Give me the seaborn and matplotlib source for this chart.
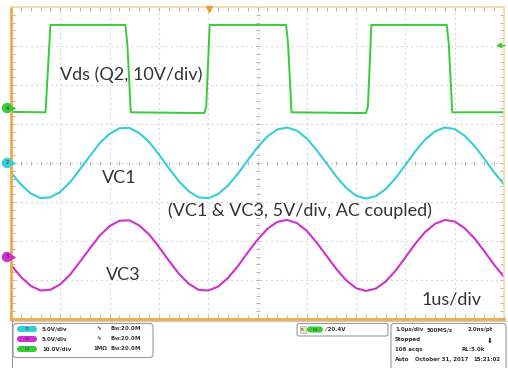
import numpy as np
import matplotlib
matplotlib.use("Agg")
import matplotlib.pyplot as plt
import seaborn as sns
from matplotlib.patches import FancyBboxPatch, Circle, Rectangle
from matplotlib.ticker import MultipleLocator

# screen readings, in divisions (x: 1 us/div, y: divisions from centre line)
time_us = [0.0, 0.2, 0.4, 0.6, 0.8, 1.0, 1.2, 1.4, 1.6, 1.8,
           2.0, 2.2, 2.4, 2.6, 2.8, 3.0, 3.2, 3.4, 3.6, 3.8,
           4.0, 4.2, 4.4, 4.6, 4.8, 5.0, 5.2, 5.4, 5.6, 5.8,
           6.0, 6.2, 6.4, 6.6, 6.8, 7.0, 7.2, 7.4, 7.6, 7.8,
           8.0, 8.2, 8.4, 8.6, 8.8, 9.0, 9.2, 9.4, 9.6, 9.8, 10.0]
vc1_div = [-0.24, -0.55, -0.78, -0.90, -0.88, -0.74, -0.49, -0.16, 0.18, 0.51,
           0.75, 0.89, 0.90, 0.77, 0.54, 0.22, -0.13, -0.46, -0.72, -0.88,
           -0.90, -0.80, -0.58, -0.28, 0.07, 0.40, 0.68, 0.86, 0.91, 0.83,
           0.63, 0.33, -0.01, -0.35, -0.64, -0.84, -0.91, -0.85, -0.67, -0.39,
           -0.05, 0.30, 0.60, 0.81, 0.91, 0.87, 0.70, 0.44, 0.11, -0.24, -0.55]
vc3_div = [-2.61, -2.92, -3.15, -3.27, -3.25, -3.11, -2.86, -2.53, -2.19, -1.86,
           -1.62, -1.48, -1.47, -1.60, -1.83, -2.15, -2.50, -2.83, -3.09, -3.25,
           -3.27, -3.17, -2.95, -2.65, -2.30, -1.97, -1.69, -1.51, -1.46, -1.54,
           -1.74, -2.04, -2.38, -2.72, -3.01, -3.21, -3.28, -3.22, -3.04, -2.76,
           -2.42, -2.07, -1.77, -1.56, -1.46, -1.50, -1.67, -1.93, -2.26, -2.61, -2.92]
vds_time_us = [0.0, 0.70, 0.80, 2.32, 2.36, 2.43, 3.92, 3.96, 4.03, 5.58,
               5.62, 5.69, 7.20, 7.24, 7.31, 8.84, 8.88, 8.95, 10.0]
vds_div = [1.31, 1.30, 3.54, 3.54, 3.05, 1.30, 1.28, 1.45, 3.54, 3.54,
           3.05, 1.30, 1.28, 1.45, 3.54, 3.54, 3.05, 1.30, 1.30]

ch_names = ["C2", "C3", "C4"]
ch_scales = ["5.0V/div", "5.0V/div", "10.0V/div"]
ch_colors = ["#33cfd6", "#d22fd0", "#38cc38"]
acq_rows = [("1.0µs/div", "500MS/s", "2.0ns/pt"),
            ("Stopped", "", ""),
            ("106 acqs", "", "RL:5.0k"),
            ("Auto", "October 31, 2017", "15:21:02")]

GREEN, CYAN, MAGENTA = "#38cc38", "#33cfd6", "#d22fd0"
TXT = "#333333"

sns.set_style("white")
plt.rcParams['font.family'] = ['Lato', 'DejaVu Sans']

fig = plt.figure(figsize=(5.08, 3.68), dpi=100)
ax = fig.add_axes([11 / 508, 49 / 368, 493 / 508, 312 / 368])

sns.lineplot(x=vds_time_us, y=vds_div, color=GREEN, lw=1.4, ax=ax, sort=False)
sns.lineplot(x=time_us, y=vc1_div, color=CYAN, lw=1.5, ax=ax)
sns.lineplot(x=time_us, y=vc3_div, color=MAGENTA, lw=1.5, ax=ax)

ax.set_xlim(0, 10)
ax.set_ylim(-4, 4)
ax.set_xticks(range(0, 11))
ax.set_yticks(range(-4, 5))
ax.xaxis.set_minor_locator(MultipleLocator(0.2))
ax.yaxis.set_minor_locator(MultipleLocator(0.2))
ax.tick_params(which='both', direction='in', top=True, right=True, bottom=True, left=True,
               labelbottom=False, labelleft=False, color='#a8a8a8', length=3, width=0.6)
ax.grid(True, which='major', color='#b8b8b8', linestyle=(0, (1, 3.5)), lw=0.8)
ax.set(xlabel=None, ylabel=None)
for side in ['left', 'bottom']:
    ax.spines[side].set_color('#f0a848')
    ax.spines[side].set_linewidth(2)
for side in ['top', 'right']:
    ax.spines[side].set_color('#f2d9ab')
    ax.spines[side].set_linewidth(1.2)

# centre crosshair ticks
mt = np.arange(0, 10.01, 0.2)
ax.plot(mt, np.zeros_like(mt), ls='none', marker='|', ms=3, mew=0.6, color='#a8a8a8')
mv = np.arange(-4, 4.01, 0.2)
ax.plot(np.full_like(mv, 5), mv, ls='none', marker='_', ms=3, mew=0.6, color='#a8a8a8')

ax.text(0.99, 2.26, "Vds (Q2, 10V/div)", fontsize=13, color=TXT, va='center')
ax.text(1.85, -0.38, "VC1", fontsize=13, color=TXT, va='center')
ax.text(3.18, -1.23, "(VC1 & VC3, 5V/div, AC coupled)", fontsize=13, color=TXT, va='center')
ax.text(1.93, -2.87, "VC3", fontsize=13, color=TXT, va='center')
ax.text(8.32, -3.49, "1us/div", fontsize=13, color=TXT, va='center')

# overlay in pixel units for scope decorations
ov = fig.add_axes([0, 0, 1, 1], zorder=5)
ov.set_xlim(0, 508)
ov.set_ylim(368, 0)
ov.axis('off')
ov.patch.set_alpha(0)

for y, c, n in [(108, GREEN, "4"), (163, CYAN, "2"), (257, MAGENTA, "3")]:
    ov.add_patch(Circle((7, y), 4.5, color=c, clip_on=False))
    ov.plot(12.5, y, marker='>', ms=2.5, color=c)
    ov.text(7, y, n, fontsize=3.5, ha='center', va='center', color='#222222', family='DejaVu Sans')
ov.plot(209, 9, marker='v', ms=4, color='#f0a030')
ov.plot(499, 45, marker='<', ms=3, color=GREEN)
ov.plot([499, 505], [45, 45], color=GREEN, lw=0.8)

# status panel
ov.plot([11, 508], [321, 321], color='#c8c8c8', lw=0.8)
ov.plot([12, 12], [321, 368], color='#9a9a9a', lw=0.8)
ov.add_patch(FancyBboxPatch((13, 323.5), 140, 34, boxstyle="round,pad=0,rounding_size=3",
                            fc='white', ec='#9a9a9a', lw=0.8))
for i, (n, s, c) in enumerate(zip(ch_names, ch_scales, ch_colors)):
    y = 329 + 10 * i
    ov.add_patch(FancyBboxPatch((17, y - 3), 20, 6, boxstyle="round,pad=0,rounding_size=3",
                                fc=c, ec='none'))
    ov.text(27, y, n, fontsize=2.8, ha='center', va='center', color='#333333', family='DejaVu Sans')
    ov.text(42, y, s, fontsize=4, ha='left', va='center', color=TXT, weight='bold', family='DejaVu Sans')
    ov.text(96 if i < 2 else 93, y, "∿" if i < 2 else "1MΩ", fontsize=4, ha='left', va='center',
            color=TXT, weight='bold', family='DejaVu Sans')
    ov.text(110, y, r"$\mathregular{B_W}$:20.0M", fontsize=4, ha='left', va='center',
            color=TXT, weight='bold', family='DejaVu Sans')

ov.add_patch(FancyBboxPatch((297, 323.5), 91, 12.5, boxstyle="round,pad=0,rounding_size=2",
                            fc='white', ec='#9a9a9a', lw=0.8))
ov.add_patch(Rectangle((299.5, 326), 6, 7, fc='#eee2c8', ec='#b0a080', lw=0.4))
ov.text(302.5, 329.7, "R", fontsize=3, ha='center', va='center', color=TXT, family='DejaVu Sans')
ov.add_patch(FancyBboxPatch((307, 326.5), 16, 6, boxstyle="round,pad=0,rounding_size=3",
                            fc=GREEN, ec='none'))
ov.text(315, 329.7, "C4", fontsize=2.8, ha='center', va='center', color='#333333', family='DejaVu Sans')
ov.text(325, 329.7, "⁄ 20.4V", fontsize=4, ha='left', va='center', color=TXT, weight='bold',
        family='DejaVu Sans')

ov.add_patch(FancyBboxPatch((391, 323.5), 115, 46, boxstyle="round,pad=0,rounding_size=3",
                            fc='white', ec='#9a9a9a', lw=0.8, clip_on=False))
for i, (a, b, c) in enumerate(acq_rows):
    y = 330 + 9.7 * i
    ov.text(395, y, a, fontsize=4, ha='left', va='center', color=TXT, weight='bold', family='DejaVu Sans')
    if b:
        ov.text(427 if i == 0 else 415, y, b, fontsize=4, ha='left', va='center', color=TXT,
                weight='bold', family='DejaVu Sans')
    if c:
        ov.text(493 if i == 0 else (485 if i == 2 else 501), y, c, fontsize=4, ha='right',
                va='center', color=TXT, weight='bold', family='DejaVu Sans')
ov.text(490, 341, "⬇", fontsize=5, ha='center', va='center', color='#222222', family='DejaVu Sans')

fig.savefig("out.png", dpi=100)
